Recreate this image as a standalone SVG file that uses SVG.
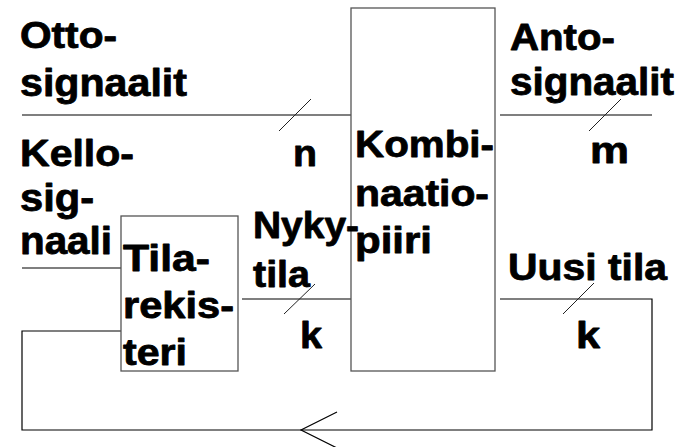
<svg xmlns="http://www.w3.org/2000/svg" width="692" height="447" viewBox="0 0 692 447">
  <style>
    .box { fill: #ffffff; stroke: #555555; stroke-width: 1.3; }
    .wire { fill: none; stroke: #000000; stroke-width: 1.2; }
    .tick { fill: none; stroke: #222222; stroke-width: 1; }
    text { font-family: "Liberation Sans", Arial, Helvetica, sans-serif; font-weight: bold; font-size: 36px; fill: #000000; stroke: #000000; stroke-width: 0.8; stroke-linejoin: round; }
    .big { font-size: 38px; }
  </style>
  <rect width="692" height="447" fill="#ffffff"/>

  <!-- connectors -->
  <g id="connectors">
    <!-- input signals -->
    <line class="wire" x1="22" y1="115" x2="352" y2="115"/>
    <line class="tick" x1="279" y1="131" x2="311" y2="99"/>
    <!-- output signals -->
    <line class="wire" x1="500" y1="115" x2="652" y2="115"/>
    <line class="tick" x1="589" y1="131" x2="621" y2="99"/>
    <!-- clock -->
    <line class="wire" x1="22" y1="268" x2="121" y2="268"/>
    <!-- current state -->
    <line class="wire" x1="242" y1="299" x2="352" y2="299"/>
    <line class="tick" x1="284" y1="314" x2="315" y2="284"/>
    <!-- next state feedback loop -->
    <path class="wire" d="M500,299 H652 V430 H22 V331 H121"/>
    <line class="tick" x1="563" y1="314" x2="594" y2="283"/>
    <path class="wire" d="M337,412 L301,430 L337,448"/>
  </g>

  <!-- combinational logic -->
  <g id="kombinaatiopiiri">
    <rect class="box" x="351" y="8" width="144" height="363"/>
    <text x="355" y="157" textLength="139" lengthAdjust="spacingAndGlyphs">Kombi-</text>
    <text x="355" y="206" textLength="134" lengthAdjust="spacingAndGlyphs">naatio-</text>
    <text x="355" y="253" textLength="77" lengthAdjust="spacingAndGlyphs">piiri</text>
  </g>

  <!-- state register -->
  <g id="tilarekisteri">
    <rect class="box" x="121" y="216" width="117" height="155"/>
    <text x="123" y="271" textLength="87" lengthAdjust="spacingAndGlyphs">Tila-</text>
    <text x="123" y="318" textLength="111" lengthAdjust="spacingAndGlyphs">rekis-</text>
    <text x="123" y="365" textLength="64" lengthAdjust="spacingAndGlyphs">teri</text>
  </g>

  <!-- signal labels -->
  <g id="labels">
    <text x="20" y="48" textLength="97" lengthAdjust="spacingAndGlyphs">Otto-</text>
    <text class="big" x="20" y="96" textLength="167" lengthAdjust="spacingAndGlyphs">signaalit</text>
    <text x="20" y="166" textLength="114" lengthAdjust="spacingAndGlyphs">Kello-</text>
    <text class="big" x="20" y="211" textLength="74" lengthAdjust="spacingAndGlyphs">sig-</text>
    <text class="big" x="20" y="254" textLength="92" lengthAdjust="spacingAndGlyphs">naali</text>
    <text x="293" y="166" textLength="24" lengthAdjust="spacingAndGlyphs">n</text>
    <text x="253" y="238" textLength="106" lengthAdjust="spacingAndGlyphs">Nyky-</text>
    <text x="253" y="287" textLength="57" lengthAdjust="spacingAndGlyphs">tila</text>
    <text x="300" y="348" textLength="22" lengthAdjust="spacingAndGlyphs">k</text>
    <text x="510" y="50" textLength="105" lengthAdjust="spacingAndGlyphs">Anto-</text>
    <text class="big" x="510" y="95" textLength="164" lengthAdjust="spacingAndGlyphs">signaalit</text>
    <text x="590" y="163" textLength="39" lengthAdjust="spacingAndGlyphs">m</text>
    <text x="508" y="280" textLength="159" lengthAdjust="spacingAndGlyphs">Uusi tila</text>
    <text x="576" y="348" textLength="24" lengthAdjust="spacingAndGlyphs">k</text>
  </g>
</svg>
